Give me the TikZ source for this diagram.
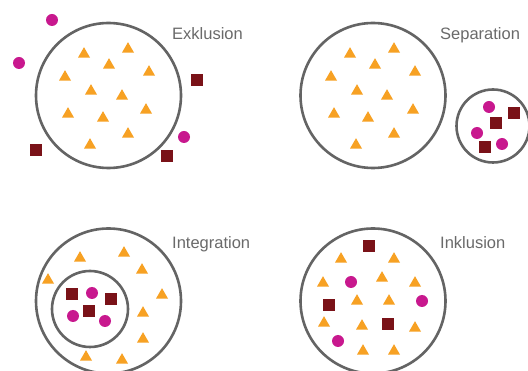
\documentclass[tikz,border=0pt]{standalone}
\usepackage{fontspec}
\setmainfont{Liberation Sans}
\definecolor{ringgray}{HTML}{646464}
\definecolor{txtgray}{HTML}{6A6A6A}
\definecolor{triorange}{HTML}{F7A123}
\definecolor{dotmag}{HTML}{C8188E}
\definecolor{sqred}{HTML}{7A1218}
\tikzset{
  ring/.style={draw=ringgray,line width=2.6pt},
  lbl/.style={anchor=base west,inner sep=0pt,text=txtgray,font=\fontsize{16.5}{19}\selectfont},
}
\newcommand{\tri}[2]{\fill[triorange,shift={(#1,#2)}] (-6,4.6) -- (6,4.6) -- (0,-5.8) -- cycle;}
\newcommand{\dotm}[2]{\fill[dotmag] (#1,#2) circle (6);}
\newcommand{\sqr}[2]{\fill[sqred,shift={(#1,#2)}] (-5.7,-5.7) rectangle (5.7,5.7);}
\begin{document}
\begin{tikzpicture}[x=1pt,y=-1pt]
\useasboundingbox[fill=white] (0,0) rectangle (528,371);
% Panel 1: Exklusion
\draw[ring] (108.5,95.5) circle (72.5);
\foreach \a/\b in {84/53,128/48,109/64,149/71,65/76,91/90,122/95,68/113,103/117,146/109,128/133,90/144} {\tri{\a}{\b}}
\foreach \a/\b in {52/20,19/63,184/137} {\dotm{\a}{\b}}
\foreach \a/\b in {197/80,36/150,167/156} {\sqr{\a}{\b}}
\node[lbl] (exkl) at (172,40) {Exklusion};
% Panel 2: Separation
\draw[ring] (373,95.5) circle (72.5);
\foreach \a/\b in {350/53,394/48,375/64,415/71,331/76,357/90,387/95,334/113,368/117,413/109,394/133,356/144} {\tri{\a}{\b}}
\draw[ring] (493,126) circle (36.5);
\foreach \a/\b in {489/107,477/133,502/144} {\dotm{\a}{\b}}
\foreach \a/\b in {514/113,496/123,485/147} {\sqr{\a}{\b}}
\node[lbl] (sep) at (440,40) {Separation};
% Panel 3: Integration
\draw[ring] (108.5,301) circle (72.5);
\draw[ring] (90,309) circle (38);
\foreach \a/\b in {80/257,124/252,142/269,48/279,162/294,143/312,143/338,86/356,122/359} {\tri{\a}{\b}}
\foreach \a/\b in {72/294,111/299,89/311} {\sqr{\a}{\b}}
\foreach \a/\b in {92/293,73/316,105/321} {\dotm{\a}{\b}}
\node[lbl] (integ) at (172,249) {Integration};
% Panel 4: Inklusion
\draw[ring] (373,301) circle (72.5);
\foreach \a/\b in {341/258,394/258,323/282,382/277,415/282,357/300,389/300,324/322,362/325,415/327,363/350,394/350} {\tri{\a}{\b}}
\foreach \a/\b in {369/246,329/305,388/324} {\sqr{\a}{\b}}
\foreach \a/\b in {351/282,422/301,338/341} {\dotm{\a}{\b}}
\node[lbl] (inkl) at (440,249) {Inklusion};
\end{tikzpicture}
\end{document}
